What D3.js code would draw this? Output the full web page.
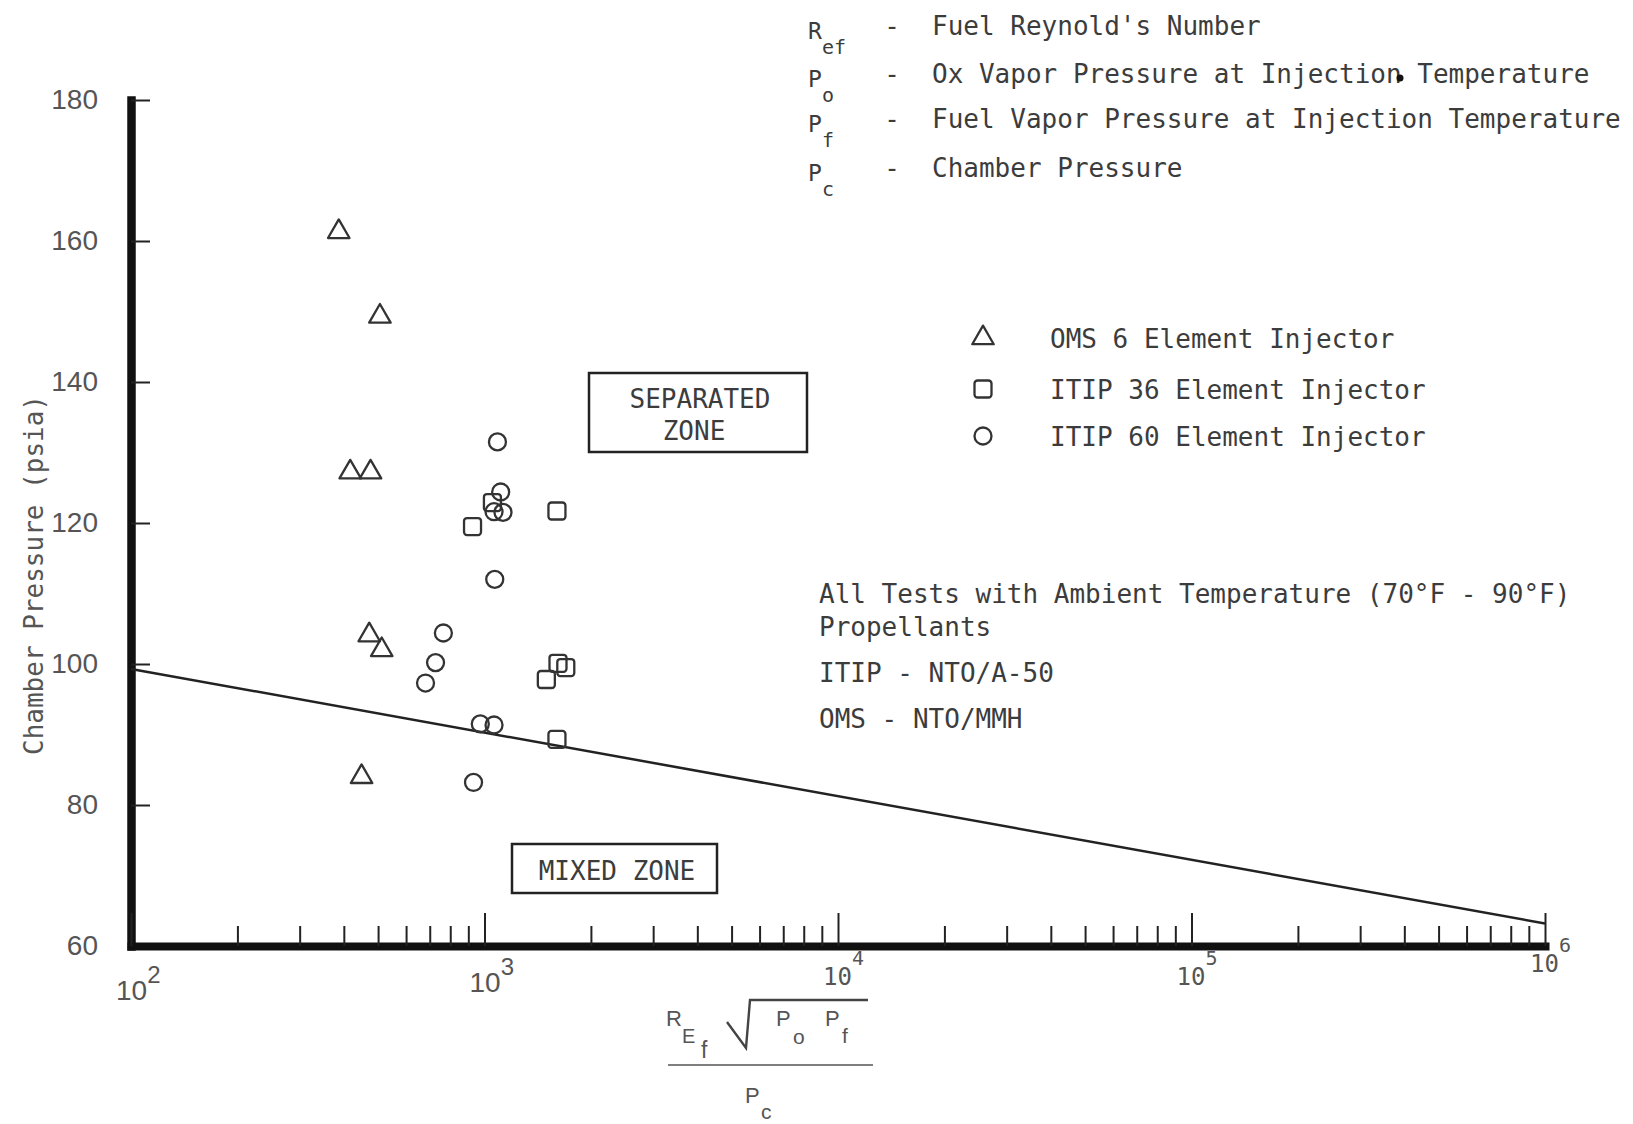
<!DOCTYPE html>
<html>
<head>
<meta charset="utf-8">
<script src="https://cdnjs.cloudflare.com/ajax/libs/d3/7.8.5/d3.min.js"></script>
<style>
body { margin: 0; background: #fff; }
svg { display: block; background: #fff; }
.mono { font-family: "DejaVu Sans Mono", monospace; fill: #3c3c3c; }
.sans { font-family: "Liberation Sans", Arial, sans-serif; fill: #555; }
</style>
</head>
<body>
<svg id="chart" width="1633" height="1124"></svg>
<script>
// ---- data ----
const omsX = [387, 506, 417, 476, 472, 512, 449];
const omsY = [161.3, 149.3, 127.2, 127.2, 104.1, 102.0, 84.0];
const itip36X = [1053, 925, 1603, 1614, 1698, 1496, 1603];
const itip36Y = [122.9, 119.5, 121.7, 100.1, 99.5, 97.8, 89.3];
const itip60X = [1088, 1111, 1064, 1128, 1069, 765, 727, 681, 973, 1064, 931];
const itip60Y = [131.5, 124.4, 121.6, 121.5, 112.0, 104.4, 100.2, 97.3, 91.5, 91.35, 83.2];
const boundaryX = [100, 1e6];
const boundaryY = [99.3, 63.2];
const yTickValues = [60, 80, 100, 120, 140, 160, 180];
const xDecadeExps = [2, 3, 4, 5, 6];
const legendLabels = ["OMS 6 Element Injector", "ITIP 36 Element Injector", "ITIP 60 Element Injector"];
const defSymbols = ["R", "P", "P", "P"];
const defSubs = ["ef", "o", "f", "c"];
const defTexts = ["Fuel Reynold's Number", "Ox Vapor Pressure at Injection Temperature",
                  "Fuel Vapor Pressure at Injection Temperature", "Chamber Pressure"];
const notes = ["All Tests with Ambient Temperature (70\u00B0F - 90\u00B0F)", "Propellants",
               "ITIP - NTO/A-50", "OMS - NTO/MMH"];

const svg = d3.select("#chart");
const x = d3.scaleLog().domain([100, 1e6]).range([131, 1545]);
const y = d3.scaleLinear().domain([60, 180]).range([946, 100]);

// y axis (ticks point inward)
const gy = svg.append("g").attr("transform", "translate(" + x(100) + ",0)")
  .call(d3.axisLeft(y).tickValues(yTickValues).tickSizeInner(-19).tickSizeOuter(0).tickPadding(33));
gy.select(".domain").attr("stroke", "#111").attr("stroke-width", 8.5).attr("stroke-linecap", "square");
gy.selectAll(".tick line").attr("stroke", "#222").attr("stroke-width", 2);
gy.selectAll(".tick text").attr("class", "sans").attr("font-size", 28).style("fill", "#555");

// x axis: minor and decade ticks drawn upward
const allTicks = x.ticks();
const isDecade = d => Math.abs(Math.log10(d) - Math.round(Math.log10(d))) < 1e-9;
const gxMinor = svg.append("g").attr("transform", "translate(0," + y(60) + ")")
  .call(d3.axisBottom(x).tickValues(allTicks.filter(d => !isDecade(d)))
    .tickSizeInner(-20).tickSizeOuter(0).tickFormat(""));
gxMinor.select(".domain").attr("stroke", "#111").attr("stroke-width", 8).attr("stroke-linecap", "square");
gxMinor.selectAll(".tick line").attr("stroke", "#222").attr("stroke-width", 2);
const gxMajor = svg.append("g").attr("transform", "translate(0," + y(60) + ")")
  .call(d3.axisBottom(x).tickValues(allTicks.filter(isDecade))
    .tickSizeInner(-33).tickSizeOuter(0).tickFormat(""));
gxMajor.select(".domain").remove();
gxMajor.selectAll(".tick line").attr("stroke", "#222").attr("stroke-width", 2);

// decade labels 10^n
const labelBase = [1000, 992, 985, 985, 972];
const labelMono = [false, false, true, true, true];
xDecadeExps.forEach((e, i) => {
  const t = svg.append("text")
    .attr("class", labelMono[i] ? "mono" : "sans")
    .attr("x", x(Math.pow(10, e)) - 15)
    .attr("y", labelBase[i])
    .attr("font-size", labelMono[i] ? 24 : 28)
    .style("fill", "#555");
  t.append("tspan").text("10");
  t.append("tspan").attr("dy", labelMono[i] ? -20 : -17)
    .attr("font-size", labelMono[i] ? 20 : 24).text(e);
});

// y title
svg.append("text").attr("class", "mono")
  .attr("transform", "translate(43,575) rotate(-90)")
  .attr("text-anchor", "middle").attr("font-size", 26).style("fill", "#555")
  .text("Chamber Pressure (psia)");

// x title as a fraction
const xt = svg.append("g").attr("class", "sans").attr("font-size", 22);
xt.append("text").attr("x", 666).attr("y", 1026).text("R");
xt.append("text").attr("x", 682).attr("y", 1043).attr("font-size", 20).text("E");
xt.append("text").attr("x", 701).attr("y", 1058).attr("font-size", 23).text("f");
xt.append("path").attr("d", "M727,1022 L746,1048 L750,1000 L868,1000")
  .attr("fill", "none").attr("stroke", "#444").attr("stroke-width", 2.4);
xt.append("text").attr("x", 776).attr("y", 1026).text("P");
xt.append("text").attr("x", 793).attr("y", 1044).attr("font-size", 21).text("o");
xt.append("text").attr("x", 825).attr("y", 1026).text("P");
xt.append("text").attr("x", 842).attr("y", 1043).attr("font-size", 21).text("f");
xt.append("line").attr("x1", 668).attr("x2", 873).attr("y1", 1065).attr("y2", 1065)
  .attr("stroke", "#555").attr("stroke-width", 1.6);
xt.append("text").attr("x", 745).attr("y", 1103).text("P");
xt.append("text").attr("x", 761).attr("y", 1119).attr("font-size", 21).text("c");

// boundary line
svg.append("path")
  .datum(boundaryX.map((d, i) => [d, boundaryY[i]]))
  .attr("d", d3.line().x(d => x(d[0])).y(d => y(d[1])))
  .attr("fill", "none").attr("stroke", "#222").attr("stroke-width", 2.5);

// zone boxes
svg.append("rect").attr("x", 589).attr("y", 373).attr("width", 218).attr("height", 79)
  .attr("fill", "none").attr("stroke", "#222").attr("stroke-width", 2.5);
svg.append("text").attr("class", "mono").attr("x", 700).attr("y", 408).attr("font-size", 26)
  .attr("text-anchor", "middle").text("SEPARATED");
svg.append("text").attr("class", "mono").attr("x", 694).attr("y", 440).attr("font-size", 26)
  .attr("text-anchor", "middle").text("ZONE");
svg.append("rect").attr("x", 512).attr("y", 844).attr("width", 205).attr("height", 49)
  .attr("fill", "none").attr("stroke", "#222").attr("stroke-width", 2.5);
svg.append("text").attr("class", "mono").attr("x", 617).attr("y", 880).attr("font-size", 26)
  .attr("text-anchor", "middle").text("MIXED ZONE");

// markers
const mk = { stroke: "#333", sw: 2.3 };
const triPath = d3.symbol().type(d3.symbolTriangle).size(200)();
function drawTri(g, cx, cy) {
  g.append("path").attr("d", triPath).attr("transform", "translate(" + cx + "," + cy + ")")
    .attr("fill", "none").attr("stroke", mk.stroke).attr("stroke-width", mk.sw).attr("stroke-linejoin", "round");
}
function drawSq(g, cx, cy) {
  g.append("rect").attr("x", cx - 8.5).attr("y", cy - 8.5).attr("width", 17).attr("height", 17).attr("rx", 3)
    .attr("fill", "none").attr("stroke", mk.stroke).attr("stroke-width", mk.sw);
}
function drawCirc(g, cx, cy) {
  g.append("circle").attr("cx", cx).attr("cy", cy).attr("r", 8.5)
    .attr("fill", "none").attr("stroke", mk.stroke).attr("stroke-width", mk.sw);
}
const pts = svg.append("g");
omsX.forEach((d, i) => drawTri(pts, x(d), y(omsY[i])));
itip36X.forEach((d, i) => drawSq(pts, x(d), y(itip36Y[i])));
itip60X.forEach((d, i) => drawCirc(pts, x(d), y(itip60Y[i])));

// legend
const legRows = [338, 389, 436];
const legDraw = [drawTri, drawSq, drawCirc];
legendLabels.forEach((lab, i) => {
  legDraw[i](svg, 983, legRows[i]);
  svg.append("text").attr("class", "mono").attr("x", 1050).attr("y", legRows[i] + 10)
    .attr("font-size", 26).text(lab);
});

// symbol definitions, top right
const defBase = [35, 83, 128, 177];
defTexts.forEach((t, i) => {
  const b = defBase[i];
  svg.append("text").attr("class", "mono").attr("x", 808).attr("y", b + 4).attr("font-size", 23).text(defSymbols[i]);
  svg.append("text").attr("class", "mono").attr("x", 822).attr("y", b + 19).attr("font-size", 20).text(defSubs[i]);
  svg.append("text").attr("class", "mono").attr("x", 892).attr("y", b).attr("font-size", 26)
    .attr("text-anchor", "middle").text("-");
  svg.append("text").attr("class", "mono").attr("x", 932).attr("y", b).attr("font-size", 26).text(t);
});
// ink blot from the scan
svg.append("circle").attr("cx", 1400).attr("cy", 78).attr("r", 3.5).attr("fill", "#111");

// notes
const noteBase = [603, 636, 682, 728];
notes.forEach((t, i) => {
  svg.append("text").attr("class", "mono").attr("x", 819).attr("y", noteBase[i]).attr("font-size", 26).text(t);
});
</script>
</body>
</html>
